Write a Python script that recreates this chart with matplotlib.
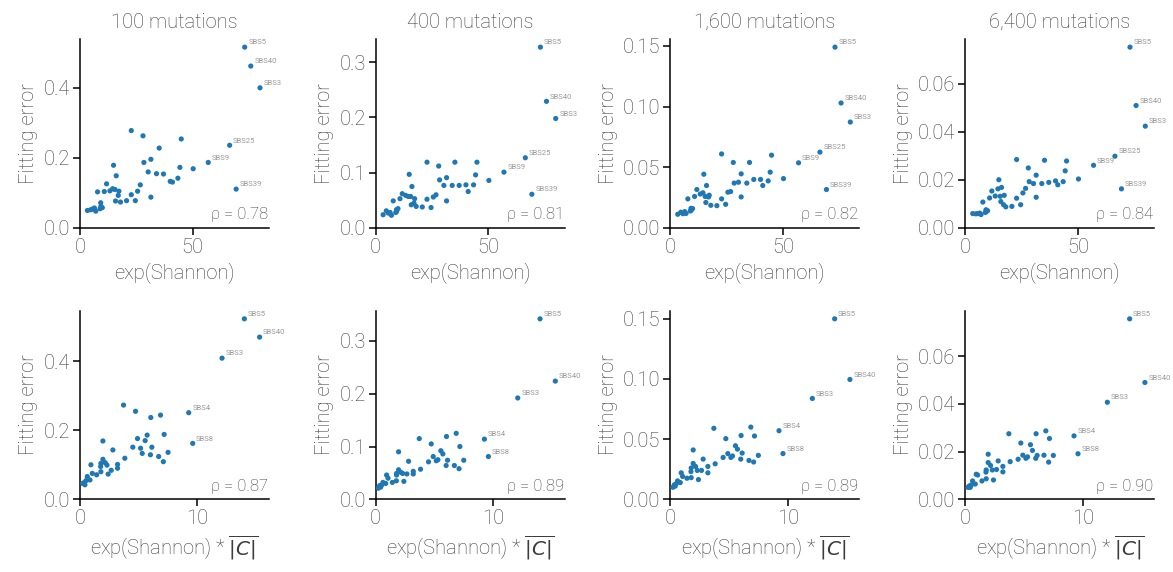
import numpy as np
import matplotlib
matplotlib.use('Agg')
import matplotlib.pyplot as plt

plt.rcParams['font.family'] = ['Roboto', 'DejaVu Sans']
plt.rcParams['mathtext.fontset'] = 'dejavusans'

# data
titles = ['100 mutations', '400 mutations', '1,600 mutations', '6,400 mutations']
rho_top = [0.78, 0.81, 0.82, 0.84]
rho_bot = [0.87, 0.89, 0.89, 0.90]

lab_top = ['SBS5', 'SBS40', 'SBS3', 'SBS25', 'SBS9', 'SBS39']
lab_bot = ['SBS5', 'SBS40', 'SBS3', 'SBS4', 'SBS8']

x_top = [73.2, 75.9, 80.0, 66.5, 57.0, 69.4,
         45.0, 22.8, 28.0, 35.2, 28.4, 31.5, 14.9, 16.1, 30.3, 34.0, 37.1, 44.4, 50.3, 43.5, 40.1, 41.1,
         11.8, 26.8, 7.8, 10.8, 13.3, 14.5, 15.5, 17.3, 17.0, 22.8, 25.6, 31.5, 15.8, 18.0, 20.7, 24.6,
         9.2, 9.3, 9.9, 8.9, 6.4, 7.0, 5.6, 4.7, 3.3]

y_top_100 = [0.516, 0.462, 0.400, 0.236, 0.187, 0.111,
             0.254, 0.278, 0.263, 0.228, 0.187, 0.196, 0.179, 0.149, 0.160, 0.155, 0.154, 0.173, 0.169, 0.142, 0.133, 0.131,
             0.126, 0.123, 0.103, 0.104, 0.106, 0.112, 0.110, 0.105, 0.093, 0.095, 0.105, 0.088, 0.077, 0.074, 0.078, 0.078,
             0.072, 0.062, 0.058, 0.055, 0.057, 0.048, 0.054, 0.052, 0.050]
y_top_400 = [0.327, 0.229, 0.198, 0.127, 0.101, 0.061,
             0.119, 0.119, 0.112, 0.119, 0.087, 0.091, 0.097, 0.075, 0.077, 0.077, 0.077, 0.096, 0.086, 0.078, 0.078, 0.066,
             0.062, 0.060, 0.049, 0.053, 0.059, 0.057, 0.057, 0.053, 0.045, 0.052, 0.056, 0.049, 0.042, 0.039, 0.038, 0.037,
             0.033, 0.030, 0.035, 0.028, 0.028, 0.023, 0.027, 0.031, 0.024]
y_top_1600 = [0.149, 0.103, 0.0873, 0.0625, 0.0537, 0.0317,
              0.060, 0.061, 0.054, 0.054, 0.037, 0.0446, 0.0443, 0.035, 0.0377, 0.037, 0.040, 0.046, 0.0407, 0.0388, 0.040, 0.035,
              0.0317, 0.030, 0.024, 0.026, 0.028, 0.029, 0.026, 0.027, 0.0256, 0.024, 0.0295, 0.0256, 0.021, 0.0187, 0.0184, 0.0195,
              0.0162, 0.0146, 0.016, 0.014, 0.0135, 0.012, 0.0118, 0.013, 0.0113]
y_top_6400 = [0.0753, 0.051, 0.0424, 0.0299, 0.0261, 0.0163,
              0.0279, 0.0285, 0.025, 0.0282, 0.0193, 0.022, 0.0201, 0.0169, 0.0185, 0.0185, 0.019, 0.0238, 0.0204, 0.0193, 0.0196, 0.018,
              0.0154, 0.0165, 0.0108, 0.0125, 0.0133, 0.0163, 0.0132, 0.0136, 0.0097, 0.0124, 0.0146, 0.0128, 0.011, 0.0088, 0.009, 0.0097,
              0.0076, 0.0068, 0.0072, 0.0065, 0.0062, 0.0056, 0.006, 0.0059, 0.006]

x_bot = [14.0, 15.3, 12.1, 9.26, 9.6,
         3.71, 4.73, 6.03, 6.86, 1.95, 4.9, 5.72, 5.55, 7.17, 4.5, 5.16, 6.12, 5.3, 6.0, 6.7, 7.1, 7.5,
         2.8, 3.82, 3.2, 3.2, 1.95, 2.15, 2.3, 1.78, 1.76, 1.78, 2.4, 2.66, 0.93, 1.05, 1.42, 0.62, 0.85,
         0.51, 0.34, 0.42, 0.23]

y_bot_100 = [0.523, 0.470, 0.409, 0.251, 0.162,
             0.273, 0.255, 0.237, 0.244, 0.169, 0.176, 0.186, 0.170, 0.188, 0.151, 0.148, 0.151, 0.133, 0.129, 0.124, 0.109, 0.136,
             0.143, 0.119, 0.101, 0.090, 0.116, 0.106, 0.099, 0.104, 0.095, 0.080, 0.073, 0.084, 0.100, 0.075, 0.071, 0.066, 0.056,
             0.054, 0.048, 0.042, 0.046]
y_bot_400 = [0.342, 0.224, 0.192, 0.114, 0.081,
             0.115, 0.105, 0.119, 0.125, 0.090, 0.081, 0.086, 0.092, 0.100, 0.071, 0.073, 0.074, 0.075, 0.064, 0.064, 0.058, 0.074,
             0.072, 0.057, 0.053, 0.048, 0.056, 0.051, 0.049, 0.049, 0.035, 0.046, 0.034, 0.048, 0.046, 0.040, 0.032, 0.032, 0.030,
             0.027, 0.026, 0.023, 0.021]
y_bot_1600 = [0.150, 0.0996, 0.0838, 0.057, 0.038,
              0.059, 0.0504, 0.053, 0.060, 0.041, 0.038, 0.0417, 0.0445, 0.0526, 0.0348, 0.0348, 0.0384, 0.036, 0.0334, 0.0323, 0.031, 0.0365,
              0.0334, 0.0295, 0.0273, 0.022, 0.0298, 0.0273, 0.024, 0.026, 0.023, 0.018, 0.0164, 0.024, 0.022, 0.019, 0.0175, 0.0153, 0.0139,
              0.013, 0.012, 0.011, 0.010]
y_bot_6400 = [0.0757, 0.049, 0.0407, 0.0266, 0.0191,
              0.0275, 0.0236, 0.0275, 0.0287, 0.0189, 0.0185, 0.0205, 0.0229, 0.0255, 0.0168, 0.0172, 0.0184, 0.0178, 0.0172, 0.0185, 0.0156, 0.0184,
              0.0161, 0.0158, 0.0138, 0.0115, 0.0154, 0.0142, 0.0123, 0.0123, 0.0114, 0.0086, 0.0081, 0.0125, 0.0105, 0.0102, 0.0077, 0.0077, 0.0064,
              0.006, 0.0056, 0.005, 0.005]

y_top = [y_top_100, y_top_400, y_top_1600, y_top_6400]
y_bot = [y_bot_100, y_bot_400, y_bot_1600, y_bot_6400]
yticks = [[0, 0.2, 0.4], [0, 0.1, 0.2, 0.3], [0, 0.05, 0.10, 0.15], [0, 0.02, 0.04, 0.06]]
yfmt = ['{:.1f}', '{:.1f}', '{:.2f}', '{:.2f}']

W, H = 1173, 572
fig = plt.figure(figsize=(W / 100, H / 100), dpi=100)

lefts = [80, 375.7, 670.3, 965.3]
aw = 189
txt = '#3c3c3c'
fs = 14.5


def panel(ax, x, y, labels, rho, xmax, xt, xlabel, yt, fmt):
    ax.scatter(x, y, s=14, color='#1f77b4', edgecolor='none', zorder=3)
    for i, lab in enumerate(labels):
        ax.annotate(lab, (x[i], y[i]), xytext=(2.5, 2), textcoords='offset points',
                    fontsize=5.5, color='#999999')
    ax.set_xlim(0, xmax)
    ax.set_ylim(0, max(y) * 1.045)
    ax.set_xticks(xt)
    ax.set_yticks(yt)
    ax.set_yticklabels([fmt.format(v) for v in yt])
    for s in ['top', 'right']:
        ax.spines[s].set_visible(False)
    for s in ['left', 'bottom']:
        ax.spines[s].set_linewidth(1.1)
    ax.tick_params(labelsize=fs, labelcolor=txt, length=5, width=1.1, pad=2)
    ax.set_xlabel(xlabel, fontsize=fs, color=txt, fontweight='light')
    ax.set_ylabel('Fitting error', fontsize=fs, color=txt, fontweight='light', labelpad=4)
    for t in ax.get_xticklabels() + ax.get_yticklabels():
        t.set_fontweight('light')
    ax.text(0.995, 0.03, '\u03c1 = {:.2f}'.format(rho), transform=ax.transAxes,
            ha='right', va='bottom', fontsize=12, color=txt, fontweight='light')


for k in range(4):
    ax = fig.add_axes([lefts[k] / W, 1 - 228 / H, aw / W, 189 / H])
    panel(ax, x_top, y_top[k], lab_top, rho_top[k], 84, [0, 50], 'exp(Shannon)', yticks[k], yfmt[k])
    ax.set_title(titles[k], fontsize=fs, color=txt, fontweight='light', pad=8)

    ax = fig.add_axes([lefts[k] / W, 1 - 499.3 / H, aw / W, 188.6 / H])
    panel(ax, x_bot, y_bot[k], lab_bot, rho_bot[k], 16.1, [0, 10],
          r'exp(Shannon) * $\overline{|C|}$', yticks[k], yfmt[k])

fig.savefig('out.png', dpi=100)
